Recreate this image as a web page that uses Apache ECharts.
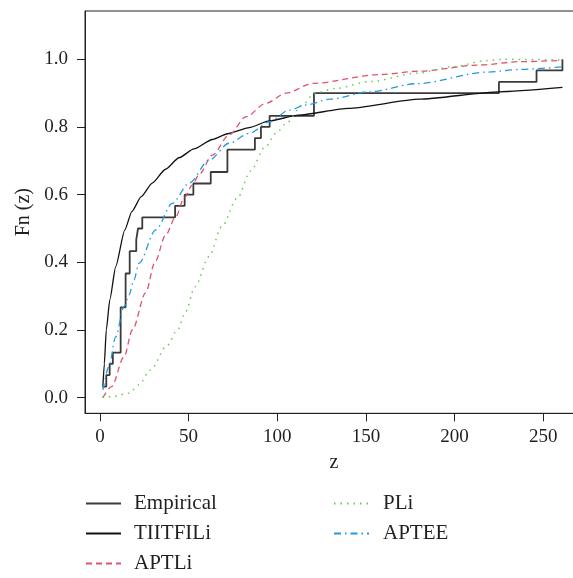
<!DOCTYPE html>
<html>
<head>
<meta charset="utf-8">
<script src="https://cdn.jsdelivr.net/npm/echarts@6/dist/echarts.min.js"></script>
<style>html,body{margin:0;padding:0;background:#fff}#c{width:573px;height:578px}</style>
</head>
<body>
<div id="c"></div>
<script>
// Empirical step function (ECDF)
var empX = [1.3, 3.6, 5.5, 7.3, 11.7, 14.5, 16.8, 20.5, 21.5, 23.9, 42.4, 47.8, 52.7, 62.5, 71.9, 87.4, 90.8, 95.7, 120.7, 225, 246.2, 260.8];
var empY = [0.033, 0.067, 0.1, 0.133, 0.267, 0.367, 0.433, 0.467, 0.5, 0.533, 0.567, 0.6, 0.633, 0.667, 0.733, 0.767, 0.8, 0.833, 0.9, 0.933, 0.967, 1.0];
// TIITFILi
var tiX = [1.7, 2.5, 3.6, 5.6, 8.9, 14, 18, 23.3, 29.5, 37, 44.6, 53, 63.4, 72, 84.2, 95.5, 112, 140, 180, 225, 260.8];
var tiY = [0.035, 0.10, 0.2, 0.29, 0.387, 0.495, 0.55, 0.594, 0.634, 0.675, 0.709, 0.735, 0.763, 0.78, 0.798, 0.818, 0.835, 0.855, 0.882, 0.904, 0.917];
// APTLi
var apX = [1.7, 6.6, 13.6, 18.3, 25.8, 31, 37, 42.8, 47.5, 52.1, 56, 63.4, 73, 82.3, 93.6, 105, 120, 158, 180, 214, 237, 260.8];
var apY = [0.0, 0.033, 0.121, 0.2, 0.31, 0.40, 0.48, 0.535, 0.59, 0.628, 0.66, 0.717, 0.777, 0.83, 0.87, 0.9, 0.929, 0.955, 0.965, 0.983, 0.993, 0.997];
// PLi
var plX = [1.3, 7, 16.4, 22, 28.5, 38, 43.7, 48.4, 53.6, 61.6, 68.6, 77.5, 85, 93, 100, 105, 114.3, 121, 133, 152, 179, 199, 218, 227, 260.8];
var plY = [0.001, 0.003, 0.013, 0.038, 0.082, 0.155, 0.2, 0.255, 0.328, 0.417, 0.505, 0.59, 0.67, 0.74, 0.785, 0.811, 0.865, 0.9, 0.914, 0.934, 0.959, 0.978, 0.996, 1.0, 0.998];
// APTEE
var aeX = [1.7, 5.1, 8.9, 13.6, 16.4, 19.2, 22, 31.5, 40.8, 50.3, 61.6, 72.9, 84.2, 95.5, 106.8, 116.2, 129.4, 152, 179, 218, 236.7, 260.8];
var aeY = [0.023, 0.092, 0.18, 0.269, 0.303, 0.348, 0.397, 0.496, 0.574, 0.634, 0.702, 0.752, 0.781, 0.815, 0.85, 0.865, 0.882, 0.904, 0.928, 0.962, 0.97, 0.978];

var xTicks = [0, 50, 100, 150, 200, 250];
var yTicks = [0, 0.2, 0.4, 0.6, 0.8, 1.0];
var names = ['Empirical', 'TIITFILi', 'APTLi', 'PLi', 'APTEE'];

function pairs(xs, ys) { return xs.map(function (x, i) { return [x, ys[i]]; }); }

var FONT = '"Liberation Serif", "DejaVu Serif", serif';
var TXT = '#231f20';

var legendBase = {
  orient: 'vertical', top: 493, padding: 0,
  itemWidth: 35, itemHeight: 14, itemGap: 9, height: 100,
  itemStyle: { opacity: 0 }
};

var chart = echarts.init(document.getElementById('c'), null, { renderer: 'canvas' });
chart.setOption({
  animation: false,
  backgroundColor: '#fff',
  grid: { left: 85, top: 11, width: 498, height: 402.3, show: true, borderColor: '#222', borderWidth: 1,
          containLabel: false, outerBoundsMode: 'none' },
  xAxis: {
    type: 'value', min: -8.4, max: 272.4,
    name: 'z', nameLocation: 'middle', nameGap: 39,
    nameTextStyle: { fontFamily: FONT, fontSize: 20, color: TXT },
    axisLine: { show: true, onZero: false, lineStyle: { color: '#222', width: 1 } },
    axisTick: { show: true, length: 8, lineStyle: { color: '#222' }, customValues: xTicks },
    axisLabel: { margin: 14, fontFamily: FONT, fontSize: 19, color: TXT, customValues: xTicks, formatter: function (v) { return String(v); } },
    splitLine: { show: false }
  },
  yAxis: {
    type: 'value', min: -0.0461, max: 1.1427,
    name: 'Fn (z)', nameLocation: 'middle', nameGap: 47, nameRotate: 90,
    nameTextStyle: { fontFamily: FONT, fontSize: 20, color: TXT },
    axisLine: { show: true, onZero: false, lineStyle: { color: '#222', width: 1 } },
    axisTick: { show: true, length: 8, lineStyle: { color: '#222' }, customValues: yTicks },
    axisLabel: { margin: 17, fontFamily: FONT, fontSize: 19, color: TXT, customValues: yTicks, formatter: function (v) { return v.toFixed(1); } },
    splitLine: { show: false }
  },
  legend: [
    Object.assign({}, legendBase, {
      data: [names[0], names[1], names[2]], left: 85,
      textStyle: { fontFamily: FONT, fontSize: 21, color: TXT, lineHeight: 21, padding: [0, 0, 0, 8] }
    }),
    Object.assign({}, legendBase, {
      data: [names[3], names[4]], left: 333,
      textStyle: { fontFamily: FONT, fontSize: 21, color: TXT, lineHeight: 21, padding: [0, 0, 0, 9] }
    })
  ],
  series: [
    { name: names[0], type: 'line', step: 'end', data: pairs(empX, empY), symbol: 'none',
      lineStyle: { color: '#3a3a3a', width: 1.8 }, itemStyle: { color: '#3a3a3a' } },
    { name: names[1], type: 'line', data: pairs(tiX, tiY), symbol: 'none', smooth: 0.2, smoothMonotone: 'x',
      lineStyle: { color: '#111', width: 1.3 }, itemStyle: { color: '#111' } },
    { name: names[2], type: 'line', data: pairs(apX, apY), symbol: 'none', smooth: 0.3, smoothMonotone: 'x',
      lineStyle: { color: '#DF536B', width: 1.3, type: [6, 4] }, itemStyle: { color: '#DF536B' } },
    { name: names[3], type: 'line', data: pairs(plX, plY), symbol: 'none', smooth: 0.3, smoothMonotone: 'x',
      lineStyle: { color: '#61D04F', width: 1.5, type: [1.5, 5] }, itemStyle: { color: '#61D04F' } },
    { name: names[4], type: 'line', data: pairs(aeX, aeY), symbol: 'none', smooth: 0.3, smoothMonotone: 'x',
      lineStyle: { color: '#2297E6', width: 1.3, type: [7, 4, 1.5, 4] }, itemStyle: { color: '#2297E6' } }
  ]
});
</script>
</body>
</html>
